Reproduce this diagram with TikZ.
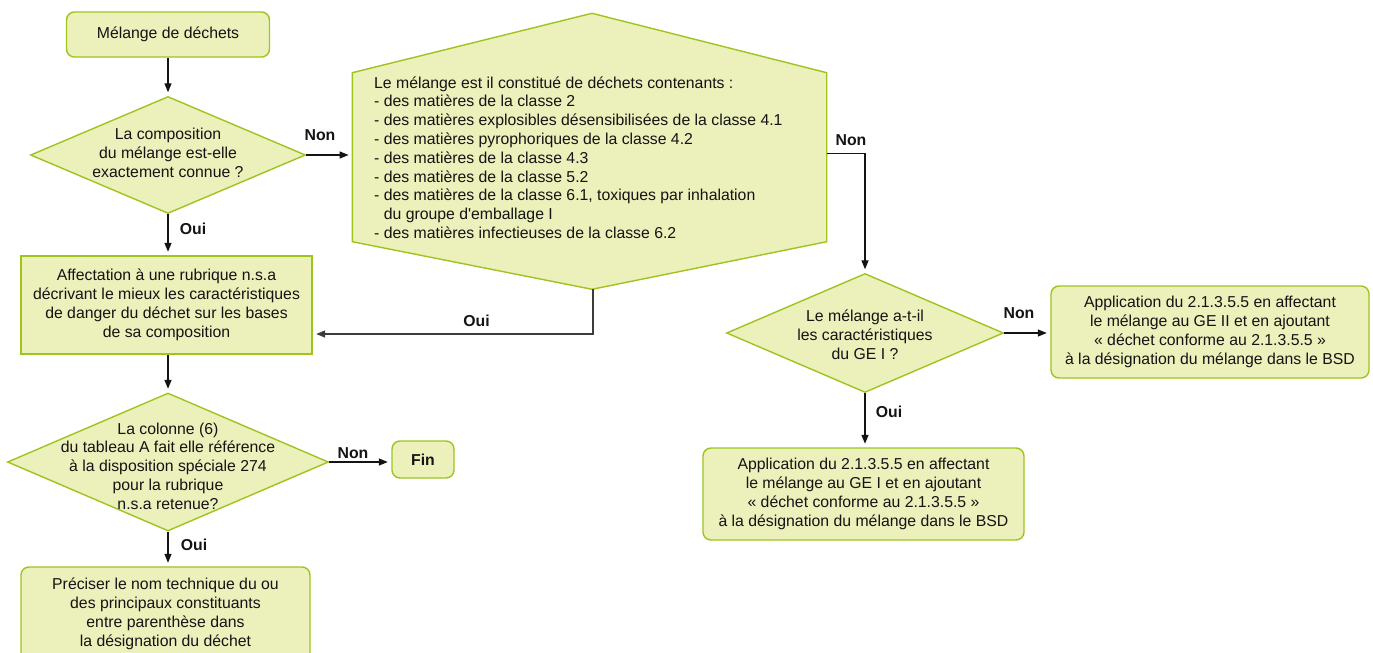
\documentclass[tikz,border=0pt]{standalone}
\usepackage{fontspec}
\setmainfont{Liberation Sans}[Ligatures=TeXOff]
\usetikzlibrary{arrows.meta,shapes.geometric,calc}
\definecolor{boxfill}{RGB}{236,240,187}
\definecolor{boxline}{RGB}{158,196,30}
\definecolor{ink}{RGB}{20,20,20}
\definecolor{ink2}{RGB}{60,60,60}
\begin{document}
\begin{tikzpicture}[x=1pt,y=-1pt,
 every node/.style={font=\fontsize{15.8}{18.8}\selectfont, text=ink},
 box/.style={draw=boxline, fill=boxfill, line width=1.4pt, inner sep=0pt},
 rbox/.style={box, rounded corners=8pt},
 dia/.style={box, diamond},
 txt/.style={align=center, inner sep=0pt},
 lbl/.style={font=\fontsize{15.8}{18.8}\selectfont\bfseries, inner sep=0pt},
 arr/.style={-{Triangle[length=9pt,width=7pt]}, line width=1.3pt, draw=ink, shorten >=3.5pt},
]
\useasboundingbox (0,0) rectangle (1373,653);

% left column
\node[rbox, minimum width=203pt, minimum height=45pt, align=center] (start) at (168,34.5) {Mélange de déchets};

\node[dia, minimum width=275pt, minimum height=117pt] (d1) at (168,155) {};
\node[txt] (d1t) at (168,153) {La composition\\du mélange est-elle\\exactement connue ?};

\node[box, minimum width=291pt, minimum height=98pt, align=center] (affect) at (166.5,305) {Affectation à une rubrique n.s.a\\décrivant le mieux les caractéristiques\\de danger du déchet sur les bases\\de sa composition};

\node[dia, minimum width=321pt, minimum height=138pt] (d2) at (168,462) {};
\node[txt] (d2t) at (168,466) {La colonne (6)\\du tableau A fait elle référence\\à la disposition spéciale 274\\pour la rubrique\\n.s.a retenue?};

\node[rbox, minimum width=62pt, minimum height=37pt, font=\fontsize{15.8}{18.8}\selectfont\bfseries] (fin) at (423,459.5) {Fin};

\node[rbox, minimum width=289pt, minimum height=94pt, align=center] (prec) at (165.5,614) {Préciser le nom technique du ou\\des principaux constituants\\entre parenthèse dans\\la désignation du déchet};

% hexagon
\draw[box] (592,13.3) -- (826.7,72.7) -- (826.7,241.7) -- (592,289.3) -- (352.3,241.7) -- (352.3,72.7) -- cycle;
\node[minimum width=474.4pt, minimum height=160pt, inner sep=0pt] (hex) at (589.5,153.3) {};
\coordinate (hexbot) at (593,289.3);
\node[align=left, anchor=west, inner sep=0pt] (hext) at (374,157.5) {Le mélange est il constitué de déchets contenants :\\
- des matières de la classe 2\\
- des matières explosibles désensibilisées de la classe 4.1\\
- des matières pyrophoriques de la classe 4.2\\
- des matières de la classe 4.3\\
- des matières de la classe 5.2\\
- des matières de la classe 6.1, toxiques par inhalation\\
\phantom{- }du groupe d'emballage I\\
- des matières infectieuses de la classe 6.2};

% right part
\node[dia, minimum width=277pt, minimum height=119pt] (d3) at (865,333) {};
\node[txt] (d3t) at (865,335) {Le mélange a-t-il\\les caractéristiques\\du GE I ?};

\node[rbox, minimum width=318pt, minimum height=92pt, align=center] (r1) at (1210,332) {Application du 2.1.3.5.5 en affectant\\le mélange au GE II et en ajoutant\\« déchet conforme au 2.1.3.5.5 »\\à la désignation du mélange dans le BSD};

\node[rbox, minimum width=321pt, minimum height=92pt, align=center] (r2) at (863.5,494) {Application du 2.1.3.5.5 en affectant\\le mélange au GE I et en ajoutant\\« déchet conforme au 2.1.3.5.5 »\\à la désignation du mélange dans le BSD};

% connectors
\draw[arr] (start.south) -- (d1.north);
\draw[arr] (d1.east) -- (d1.east -| hex.west);
\draw[arr] (d1.south) -- (d1.south |- affect.north);
\draw[arr] (affect.south -| d1.south) -- (d2.north);
\draw[arr] (d2.east) -- (d2.east -| fin.west);
\draw[arr] (d2.south) -- (d2.south |- prec.north);
\draw[arr] (hex.east) -| (d3.north);
\draw[arr, draw=ink2] (hexbot) |- ($(affect.east)+(0,29)$);
\draw[arr] (d3.east) -- (d3.east -| r1.west);
\draw[arr] (d3.south) -- (d3.south |- r2.north);

% labels
\node[lbl] (l1) at (320,135) {Non};
\node[lbl] (l2) at (193,228.5) {Oui};
\node[lbl] (l3) at (353,452.7) {Non};
\node[lbl] (l4) at (194,545) {Oui};
\node[lbl] (l5) at (476.5,321) {Oui};
\node[lbl] (l6) at (851,140) {Non};
\node[lbl] (l7) at (1019,313) {Non};
\node[lbl] (l8) at (889,412) {Oui};
\end{tikzpicture}
\end{document}
